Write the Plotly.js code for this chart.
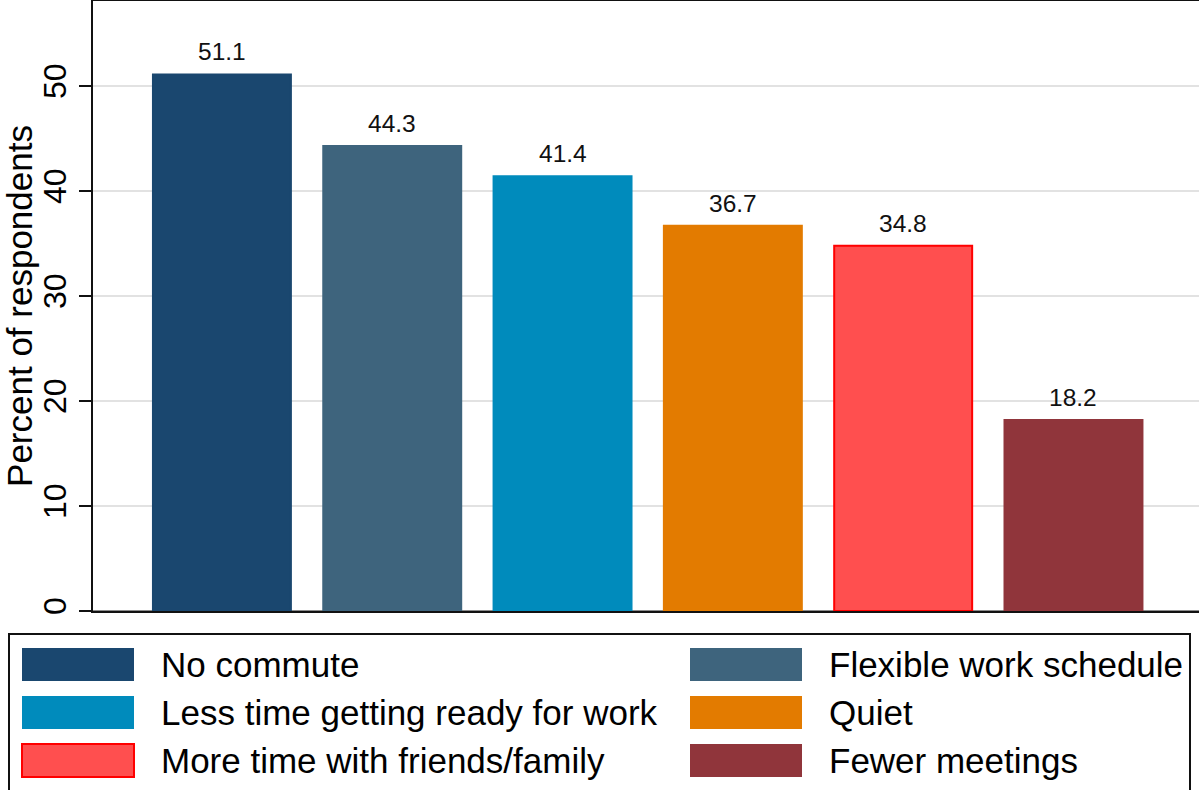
<!DOCTYPE html>
<html>
<head>
<meta charset="utf-8">
<script src="https://cdn.plot.ly/plotly-3.0.1.min.js"></script>
<style>html,body{margin:0;padding:0;background:#fff;}#chart{width:1199px;height:790px;}</style>
</head>
<body>
<div id="chart"></div>
<script>
// ---- data ----
const categories = ['No commute', 'Flexible work schedule', 'Less time getting ready for work', 'Quiet', 'More time with friends/family', 'Fewer meetings'];
const values = [51.1, 44.3, 41.4, 36.7, 34.8, 18.2];
const fillColors = ['#1a476f', '#3e647d', '#008bbc', '#e37b00', '#ff4f4f', '#90353b'];
const lineColors = ['#1a476f', '#3e647d', '#008bbc', '#e37b00', '#ff0000', '#90353b'];
const yTickVals = [0, 10, 20, 30, 40, 50];
const yTitle = 'Percent of respondents';

const FONT = 'Liberation Sans, Arial, Helvetica, sans-serif';
const W = 1199, H = 790;
const ML = 93, MT = 1, MB = 179, MR = 0;
const plotW = W - ML - MR, plotH = H - MT - MB;
const px2x = p => (p - ML) / plotW;
const px2y = p => (H - MB - p) / plotH;

const trace = {
  type: 'bar',
  x: categories,
  y: values,
  width: 0.81,
  marker: {color: fillColors, line: {color: lineColors, width: 2}},
  hoverinfo: 'x+y',
  showlegend: false
};

const annotations = categories.map((c, i) => ({
  x: c, y: values[i], xref: 'x', yref: 'y',
  text: values[i].toFixed(1), showarrow: false,
  xanchor: 'center', yanchor: 'bottom', yshift: 7,
  font: {family: FONT, size: 24.5, color: '#111'}
}));

const shapes = [];
// legend frame
shapes.push({type: 'rect', xref: 'paper', yref: 'paper',
  x0: px2x(9), x1: px2x(1190), y0: px2y(634), y1: px2y(805),
  line: {color: '#111', width: 2}, fillcolor: 'rgba(0,0,0,0)'});
const colSw = [22, 690], colTx = [159, 827], rowTop = [648, 696, 744];
categories.forEach((c, i) => {
  const col = i % 2, row = Math.floor(i / 2);
  shapes.push({type: 'rect', xref: 'paper', yref: 'paper',
    x0: px2x(colSw[col]), x1: px2x(colSw[col] + 112),
    y0: px2y(rowTop[row]), y1: px2y(rowTop[row] + 33),
    fillcolor: fillColors[i], line: {color: lineColors[i], width: i === 4 ? 2 : 0}});
  annotations.push({xref: 'paper', yref: 'paper',
    x: px2x(colTx[col]), y: px2y(rowTop[row] + 16.5),
    xanchor: 'left', yanchor: 'middle', showarrow: false, text: c,
    font: {family: FONT, size: 35, color: '#000'}});
});

const layout = {
  width: W, height: H,
  margin: {l: ML, r: MR, t: MT, b: MB, pad: 0},
  paper_bgcolor: '#fff', plot_bgcolor: '#fff',
  font: {family: FONT, color: '#000'},
  xaxis: {
    type: 'category', range: [-0.757, 5.737], showticklabels: false, ticks: '',
    showgrid: false, showline: true, linecolor: '#111', linewidth: 2, mirror: true,
    zeroline: false, fixedrange: true
  },
  yaxis: {
    range: [0, 58.1], tickvals: yTickVals, ticktext: yTickVals.map(String),
    tickangle: -90, ticks: 'outside', ticklen: 12, tickwidth: 2, tickcolor: '#111',
    tickfont: {family: FONT, size: 32, color: '#000'},
    showgrid: true, gridcolor: '#e2e2e2', gridwidth: 2,
    showline: true, linecolor: '#111', linewidth: 2,
    zeroline: true, zerolinecolor: '#8c8c8c', zerolinewidth: 2,
    title: {text: yTitle, font: {family: FONT, size: 35, color: '#000'}, standoff: 8},
    fixedrange: true
  },
  bargap: 0.19,
  shapes: shapes,
  annotations: annotations
};

Plotly.newPlot('chart', [trace], layout, {displayModeBar: false, staticPlot: true});
</script>
</body>
</html>
